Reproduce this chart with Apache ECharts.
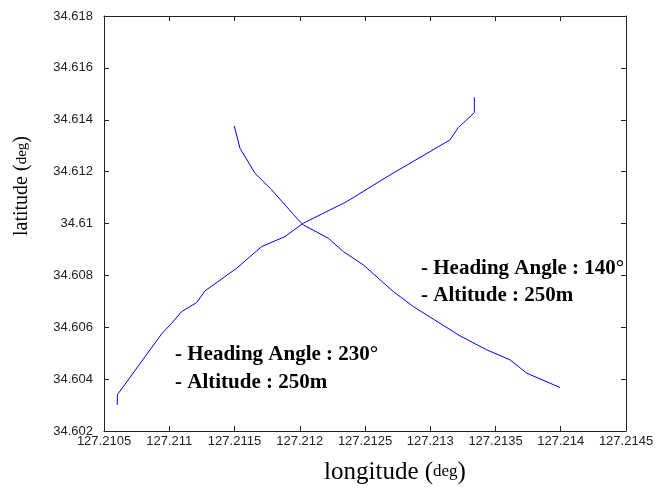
<!DOCTYPE html>
<html>
<head>
<meta charset="utf-8">
<script src="https://cdn.jsdelivr.net/npm/echarts@6/dist/echarts.min.js"></script>
<style>
html,body{margin:0;padding:0;background:#fff;}
#chart{width:658px;height:488px;}
</style>
</head>
<body>
<div id="chart"></div>
<script>
// Track flown with heading angle 230 deg (lower-left to upper-right)
var track230Lon = [127.210602,127.210602,127.210942,127.211019,127.211095,127.211210,127.211274,127.211517,127.211708,127.211887,127.212027,127.212232,127.212360,127.212692,127.212998,127.213151,127.213215,127.213338,127.213338];
var track230Lat = [34.603010,34.603395,34.605746,34.606158,34.606605,34.606952,34.607403,34.608277,34.609110,34.609495,34.610011,34.610524,34.610844,34.611873,34.612771,34.613222,34.613696,34.614274,34.614867];
// Track flown with heading angle 140 deg (upper-left to lower-right)
var track140Lon = [127.211498,127.211542,127.211657,127.211785,127.211989,127.212027,127.212219,127.212334,127.212487,127.212717,127.212870,127.213228,127.213433,127.213611,127.213739,127.213994];
var track140Lat = [34.613761,34.612902,34.611938,34.611295,34.610139,34.609946,34.609433,34.608917,34.608405,34.607376,34.606798,34.605668,34.605129,34.604744,34.604231,34.603676];

var xMin = 127.2105, xMax = 127.2145, xStep = 0.0005;
var yMin = 34.602, yMax = 34.618, yStep = 0.002;

var annot230 = ['- Heading Angle : 230°', '- Altitude : 250m'];
var annot140 = ['- Heading Angle : 140°', '- Altitude : 250m'];

function zip(a, b) { return a.map(function (v, i) { return [v, b[i]]; }); }
function fmt(v) { return String(parseFloat(v.toFixed(4))); }

var chart = echarts.init(document.getElementById('chart'));
var tickFont = {fontFamily: 'Liberation Sans', fontSize: 13, color: '#222'};
function mkX(pos, showLabel) {
  return {
    type: 'value', position: pos, min: xMin, max: xMax, interval: xStep,
    axisLine: {show: true, onZero: false, lineStyle: {color: '#222', width: 1}},
    axisTick: {show: true, inside: true, length: 5, lineStyle: {color: '#222'}},
    axisLabel: Object.assign({show: showLabel, margin: 4, formatter: fmt, showMinLabel: true, showMaxLabel: true}, tickFont),
    splitLine: {show: false}
  };
}
function mkY(pos, showLabel) {
  return {
    type: 'value', position: pos, min: yMin, max: yMax, interval: yStep,
    axisLine: {show: true, onZero: false, lineStyle: {color: '#222', width: 1}},
    axisTick: {show: true, inside: true, length: 5, lineStyle: {color: '#222'}},
    axisLabel: Object.assign({show: showLabel, margin: 11, formatter: fmt, showMinLabel: true, showMaxLabel: true}, tickFont),
    splitLine: {show: false}
  };
}

var annotStyle = {fontFamily: 'Liberation Serif', fontSize: 21, fontWeight: 'bold', fill: '#000'};

chart.setOption({
  animation: false,
  backgroundColor: '#fff',
  grid: {left: 104, top: 16, right: 32, bottom: 57, containLabel: false},
  xAxis: [mkX('bottom', true), mkX('top', false)],
  yAxis: [mkY('left', true), mkY('right', false)],
  series: [
    {type: 'line', xAxisIndex: 0, yAxisIndex: 0, data: zip(track230Lon, track230Lat), showSymbol: false, symbol: 'none',
     lineStyle: {color: '#0000ff', width: 1}},
    {type: 'line', xAxisIndex: 0, yAxisIndex: 0, data: zip(track140Lon, track140Lat), showSymbol: false, symbol: 'none',
     lineStyle: {color: '#0000ff', width: 1}}
  ],
  graphic: [
    {type: 'text', left: 175, top: 344, style: Object.assign({text: annot230[0]}, annotStyle)},
    {type: 'text', left: 175, top: 372, style: Object.assign({text: annot230[1]}, annotStyle)},
    {type: 'text', left: 421, top: 258, style: Object.assign({text: annot140[0]}, annotStyle)},
    {type: 'text', left: 421, top: 285, style: Object.assign({text: annot140[1]}, annotStyle)},
    {type: 'text', x: 395, y: 472, style: {
      text: '{a|longitude (}{b|deg}{a|)}', align: 'center', verticalAlign: 'middle',
      rich: {a: {fontFamily: 'Liberation Serif', fontSize: 25, fill: '#000'},
             b: {fontFamily: 'Liberation Serif', fontSize: 17, fill: '#000'}}}},
    {type: 'text', x: 22, y: 186, rotation: Math.PI / 2, style: {
      text: '{a|latitude (}{b|deg}{a|)}', align: 'center', verticalAlign: 'middle',
      rich: {a: {fontFamily: 'Liberation Serif', fontSize: 20, fill: '#000'},
             b: {fontFamily: 'Liberation Serif', fontSize: 15, fill: '#000'}}}}
  ]
});
</script>
</body>
</html>
